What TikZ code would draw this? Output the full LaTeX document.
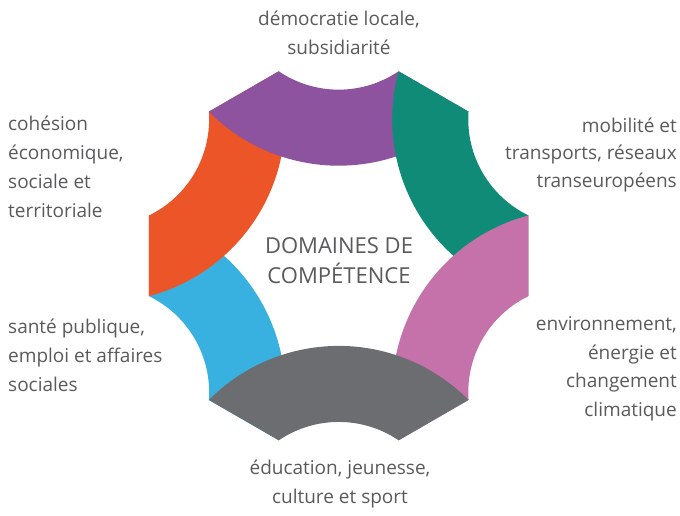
\documentclass[tikz,border=0pt]{standalone}
\usepackage{fontspec}
\setmainfont{Open Sans}
\definecolor{cpurple}{HTML}{8D539E}
\definecolor{cteal}{HTML}{0F8B77}
\definecolor{cpink}{HTML}{C572AB}
\definecolor{cgray}{HTML}{6C6D71}
\definecolor{cblue}{HTML}{38B1E0}
\definecolor{corange}{HTML}{EB5528}
\definecolor{ctext}{HTML}{5A5A5C}
\tikzset{
  band/.pic={
    \fill[pic actions] (132:194pt) -- (108:194pt)
      arc[start angle=235.91, end angle=304.09, radius=106.9pt]
      -- (48:194pt)
      arc[start angle=315.22, end angle=224.78, radius=182.9pt] -- cycle;
  },
  lbl/.style={inner sep=0pt, text=ctext, font=\fontsize{19}{29}\selectfont},
  ctr/.style={inner sep=0pt, text=ctext, font=\fontsize{22}{30}\selectfont},
}
\begin{document}
\begin{tikzpicture}[x=1pt,y=1pt]
\useasboundingbox (0,0) rectangle (680,515);
\coordinate (O) at (338.7,259.2);
% bands, from bottom layer to top layer
\pic[fill=cblue]   at (O) [rotate=120] {band};
\pic[fill=corange] at (O) [rotate=60] {band};
\pic[fill=cpurple] at (O) {band};
\pic[fill=cteal]   at (O) [rotate=-60] {band};
\pic[fill=cpink]   at (O) [rotate=-120] {band};
\pic[fill=cgray]   at (O) [rotate=180] {band};
% centre
\node[ctr, anchor=base] (c1) at (339,262) {DOMAINES DE};
\node[ctr, anchor=base] (c2) at (339,232) {COMPÉTENCE};
% top
\node[lbl, anchor=base] (t1) at (339,489) {démocratie locale,};
\node[lbl, anchor=base] (t2) at (339,460) {subsidiarité};
% upper right
\node[lbl, anchor=base east] (r1) at (677,382) {mobilité et};
\node[lbl, anchor=base east] (r2) at (677,355) {transports, réseaux};
\node[lbl, anchor=base east] (r3) at (677,327) {transeuropéens};
% lower right
\node[lbl, anchor=base east] (s1) at (677,185) {environnement,};
\node[lbl, anchor=base east] (s2) at (677,156) {énergie et};
\node[lbl, anchor=base east] (s3) at (677,128) {changement};
\node[lbl, anchor=base east] (s4) at (677,99) {climatique};
% bottom
\node[lbl, anchor=base] (b1) at (340,41) {éducation, jeunesse,};
\node[lbl, anchor=base] (b2) at (340,12) {culture et sport};
% lower left
\node[lbl, anchor=base west] (l1) at (8,182) {santé publique,};
\node[lbl, anchor=base west] (l2) at (8,153) {emploi et affaires};
\node[lbl, anchor=base west] (l3) at (8,124) {sociales};
% upper left
\node[lbl, anchor=base west] (u1) at (8,384) {cohésion};
\node[lbl, anchor=base west] (u2) at (8,355) {économique,};
\node[lbl, anchor=base west] (u3) at (8,326) {sociale et};
\node[lbl, anchor=base west] (u4) at (8,298) {territoriale};
\end{tikzpicture}
\end{document}
